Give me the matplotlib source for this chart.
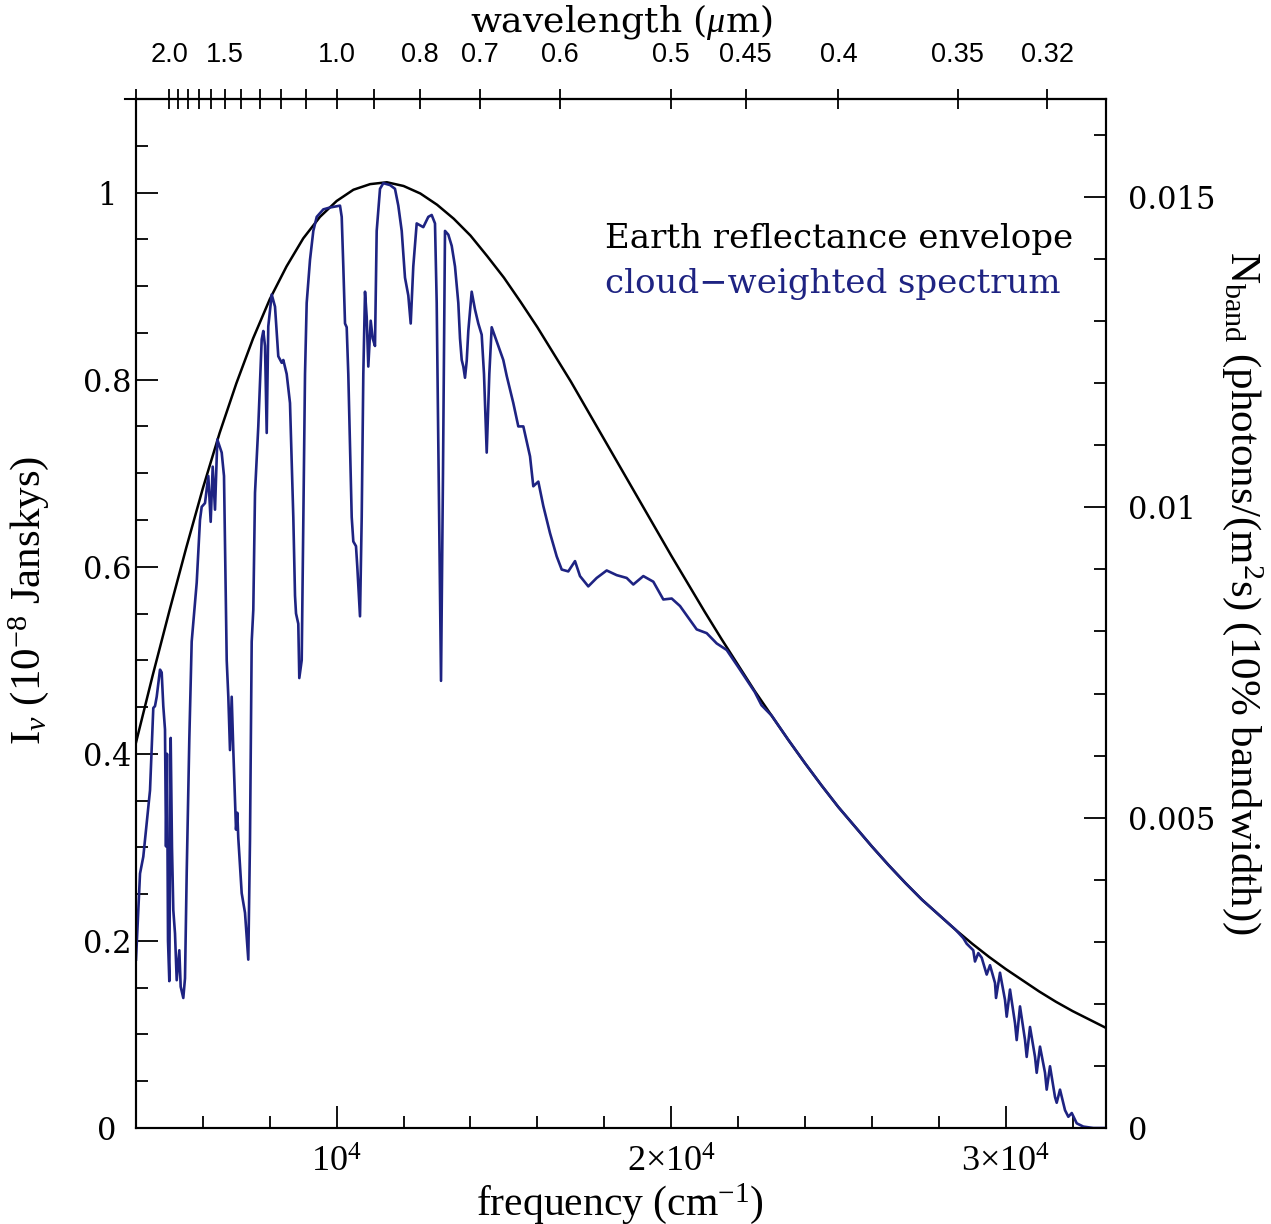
import numpy as np
import matplotlib
matplotlib.use("Agg")
import matplotlib.pyplot as plt
from matplotlib.ticker import MultipleLocator, FixedLocator

# values
# frequency in cm^-1, intensity in 1e-8 Jy
env_freq = [4000, 4500, 5000, 5500, 6000, 6500, 7000, 7500, 8000, 8500,
            9000, 9500, 10000, 10500, 11000, 11500, 12000, 12500, 13000, 13500,
            14000, 14500, 15000, 15500, 16000, 16500, 17000, 17500, 18000, 18500,
            19000, 19500, 20000, 20500, 21000, 21500, 22000, 22500, 23000, 23500,
            24000, 24500, 25000, 25500, 26000, 26500, 27000, 27500, 28000, 28500,
            29000, 29500, 30000, 30500, 31000, 31500, 32000, 32500, 33000]
env_I = [0.412, 0.484, 0.553, 0.620, 0.684, 0.743, 0.796, 0.844, 0.886, 0.921,
         0.951, 0.974, 0.991, 1.003, 1.009, 1.011, 1.007, 0.999, 0.987, 0.972,
         0.954, 0.932, 0.909, 0.883, 0.856, 0.827, 0.798, 0.767, 0.736, 0.705,
         0.674, 0.643, 0.612, 0.582, 0.552, 0.523, 0.495, 0.467, 0.441, 0.415,
         0.390, 0.366, 0.343, 0.322, 0.301, 0.281, 0.262, 0.244, 0.228, 0.212,
         0.197, 0.183, 0.170, 0.158, 0.146, 0.135, 0.125, 0.116, 0.107]

spec_freq = [4000, 4120, 4218, 4419, 4517, 4568, 4619, 4718, 4768, 4816,
             4867, 4897, 4927, 4957, 4996, 5037, 5076, 5115, 5166, 5217,
             5295, 5336, 5414, 5465, 5516, 5594, 5665, 5815, 5913, 5964,
             6063, 6162, 6233, 6293, 6362, 6431, 6562, 6631, 6712, 6760,
             6810, 6861, 6909, 6990, 7029, 7058, 7160, 7259, 7310, 7357,
             7408, 7459, 7507, 7558, 7656, 7758, 7806, 7857, 7908, 7955,
             8057, 8156, 8254, 8356, 8404, 8505, 8604, 8703, 8754, 8784,
             8852, 8882, 8954, 9002, 9053, 9103, 9202, 9301, 9403, 9600,
             9800, 10099, 10150, 10198, 10249, 10299, 10347, 10398, 10449, 10497,
             10577, 10616, 10697, 10748, 10796, 10847, 10897, 10945, 11017, 11077,
             11145, 11196, 11295, 11394, 11594, 11743, 11842, 11944, 12042, 12141,
             12213, 12290, 12392, 12491, 12589, 12739, 12840, 12939, 12990, 13038,
             13089, 13119, 13178, 13238, 13337, 13439, 13537, 13636, 13687, 13738,
             13786, 13836, 13887, 13935, 14036, 14135, 14234, 14335, 14404, 14485,
             14563, 14634, 14784, 14981, 15083, 15280, 15430, 15580, 15780, 15878,
             16028, 16177, 16377, 16578, 16727, 16924, 17125, 17274, 17522, 17773,
             18072, 18371, 18670, 18868, 19167, 19466, 19765, 20016, 20264, 20563,
             20763, 21062, 21361, 21660, 22000, 22500, 22700, 23000, 23500, 24000,
             24500, 25000, 25500, 26000, 26500, 27000, 27500, 28000, 28500, 28734,
             28835, 29032, 29083, 29182, 29284, 29433, 29532, 29682, 29712, 29831,
             29980, 30031, 30130, 30280, 30330, 30429, 30579, 30629, 30728, 30878,
             30928, 31027, 31177, 31227, 31326, 31476, 31526, 31625, 31775, 31874,
             31976, 32125, 32322, 32621, 33000]
spec_I = [0.180, 0.272, 0.290, 0.361, 0.449, 0.451, 0.461, 0.490, 0.487, 0.451,
          0.426, 0.301, 0.400, 0.200, 0.157, 0.417, 0.300, 0.233, 0.208, 0.158,
          0.190, 0.151, 0.139, 0.160, 0.273, 0.416, 0.520, 0.583, 0.650, 0.664,
          0.668, 0.697, 0.648, 0.707, 0.661, 0.736, 0.722, 0.697, 0.500, 0.461,
          0.404, 0.461, 0.404, 0.319, 0.337, 0.310, 0.251, 0.230, 0.204, 0.180,
          0.308, 0.520, 0.554, 0.679, 0.750, 0.843, 0.852, 0.836, 0.743, 0.857,
          0.891, 0.878, 0.825, 0.818, 0.821, 0.806, 0.775, 0.653, 0.569, 0.550,
          0.539, 0.481, 0.500, 0.653, 0.806, 0.882, 0.928, 0.959, 0.974, 0.982,
          0.984, 0.986, 0.974, 0.921, 0.860, 0.856, 0.806, 0.729, 0.653, 0.627,
          0.622, 0.600, 0.547, 0.653, 0.806, 0.894, 0.867, 0.814, 0.863, 0.844,
          0.836, 0.959, 1.004, 1.010, 1.008, 1.004, 0.986, 0.959, 0.909, 0.890,
          0.860, 0.921, 0.967, 0.965, 0.963, 0.974, 0.976, 0.967, 0.882, 0.729,
          0.576, 0.478, 0.700, 0.959, 0.955, 0.943, 0.921, 0.882, 0.844, 0.821,
          0.814, 0.802, 0.820, 0.852, 0.894, 0.875, 0.860, 0.848, 0.806, 0.722,
          0.806, 0.856, 0.841, 0.821, 0.804, 0.775, 0.750, 0.750, 0.718, 0.686,
          0.691, 0.665, 0.636, 0.611, 0.597, 0.595, 0.606, 0.590, 0.579, 0.588,
          0.596, 0.591, 0.588, 0.581, 0.590, 0.584, 0.565, 0.566, 0.558, 0.543,
          0.533, 0.529, 0.518, 0.511, 0.493, 0.466, 0.452, 0.441, 0.415, 0.390,
          0.366, 0.343, 0.322, 0.301, 0.281, 0.262, 0.244, 0.228, 0.212, 0.203,
          0.197, 0.190, 0.178, 0.187, 0.182, 0.164, 0.174, 0.155, 0.139, 0.166,
          0.137, 0.119, 0.148, 0.112, 0.094, 0.130, 0.094, 0.076, 0.108, 0.076,
          0.059, 0.087, 0.059, 0.041, 0.066, 0.033, 0.027, 0.041, 0.019, 0.012,
          0.016, 0.005, 0.0015, 0.0, 0.0]

freq_ticks = [10000, 20000, 30000]
freq_labels = [r'$10^4$', r'$2{\times}10^4$', r'$3{\times}10^4$']
wl_ticks = [2.0, 1.5, 1.0, 0.8, 0.7, 0.6, 0.5, 0.45, 0.4, 0.35, 0.32]
wl_labels = ['2.0', '1.5', '1.0', '0.8', '0.7', '0.6', '0.5', '0.45', '0.4', '0.35', '0.32']
wl_minor = [2.5, 1.9, 1.8, 1.7, 1.6, 1.4, 1.3, 1.2, 1.1, 0.9]

plt.rcParams['font.family'] = 'DejaVu Serif'
plt.rcParams['mathtext.fontset'] = 'custom'
plt.rcParams['mathtext.rm'] = 'Liberation Serif'
plt.rcParams['mathtext.it'] = 'Liberation Serif:italic'
plt.rcParams['mathtext.bf'] = 'Liberation Serif:bold'

NAVY = '#1e2382'

fig = plt.figure(figsize=(12.71, 12.24), dpi=100)
ax = fig.add_axes([136 / 1271, 1 - 1128 / 1224, 970 / 1271, 1029 / 1224])

ax.plot(env_freq, env_I, color='black', lw=1.8, zorder=2)
ax.plot(spec_freq, spec_I, color=NAVY, lw=1.9, zorder=3)

ax.set_xlim(4000, 33000)
ax.set_ylim(0, 1.1)
for s in ax.spines.values():
    s.set_linewidth(1.5)
# little overhang of the top frame line at the upper left corner
ax.plot([-0.011, 0], [1, 1], transform=ax.transAxes, clip_on=False,
        color='black', lw=1.5)

# bottom axis
ax.set_xticks(freq_ticks)
ax.set_xticklabels(freq_labels)
ax.xaxis.set_minor_locator(MultipleLocator(2000))
ax.tick_params(axis='x', which='both', direction='in', top=False, width=1.3,
               labelsize=26, pad=12)
ax.tick_params(axis='x', which='major', length=15.5)
ax.tick_params(axis='x', which='minor', length=8.5)

# left axis
ax.yaxis.set_major_locator(MultipleLocator(0.2))
ax.yaxis.set_minor_locator(MultipleLocator(0.05))
ax.yaxis.set_major_formatter(lambda v, p: '%g' % round(v, 3))
ax.tick_params(axis='y', which='both', direction='in', right=False, width=1.3,
               labelsize=22, pad=21)
ax.tick_params(axis='y', which='major', length=15.5)
ax.tick_params(axis='y', which='minor', length=8.5)
for lab in ax.get_yticklabels():
    lab.set_horizontalalignment('center')

ax.set_xlabel('frequency (cm$^{-1}$)', family='Liberation Serif', fontsize=30)
ax.xaxis.set_label_coords(0.499, -0.052)
ax.set_ylabel(r'I$_\nu$ (10$^{-8}$ Janskys)', family='Liberation Serif', fontsize=31)
ax.yaxis.set_label_coords(-0.088, 0.513)

# right axis, photon rate
ax2 = ax.twinx()
ax2.set_ylim(0, 0.01658)
ax2.yaxis.set_major_locator(MultipleLocator(0.005))
ax2.yaxis.set_minor_locator(MultipleLocator(0.001))
ax2.yaxis.set_major_formatter(lambda v, p: '%g' % round(v, 4))
ax2.tick_params(axis='y', which='both', direction='in', width=1.3,
                labelsize=22, pad=16)
ax2.tick_params(axis='y', which='major', length=15.5)
ax2.tick_params(axis='y', which='minor', length=8.5)
for s in ax2.spines.values():
    s.set_linewidth(1.5)
ax2.set_ylabel(r'N$_\mathrm{band}$ (photons/(m$^2$s) (10% bandwidth))',
               family='Liberation Serif', fontsize=31, rotation=270, va='bottom')
ax2.yaxis.set_label_coords(1.118, 0.52)


# top axis, wavelength in micron
def inv(x):
    x = np.asarray(x, dtype=float)
    with np.errstate(divide='ignore', invalid='ignore'):
        return 1e4 / x


top = ax.secondary_xaxis('top', functions=(inv, inv))
top.set_xticks(wl_ticks)
top.set_xticklabels(wl_labels)
top.xaxis.set_minor_locator(FixedLocator(wl_minor))
top.tick_params(which='both', direction='inout', length=14.5, width=1.3,
                labelsize=19.5, pad=15, labelfontfamily='Liberation Sans')
top.spines['top'].set_linewidth(1.5)
fig.text(621 / 1271, 1 - 22 / 1224, r'wavelength ($\mu$m)', fontsize=26,
         ha='center', va='center')

# key
ax.text(0.4835, 0.8552, 'Earth reflectance envelope', transform=ax.transAxes,
        fontsize=24.5, color='black', va='baseline', ha='left')
ax.text(0.4835, 0.8115, 'cloud\u2212weighted spectrum', transform=ax.transAxes,
        fontsize=24.5, color=NAVY, va='baseline', ha='left')

fig.savefig('out.png', dpi=100)
